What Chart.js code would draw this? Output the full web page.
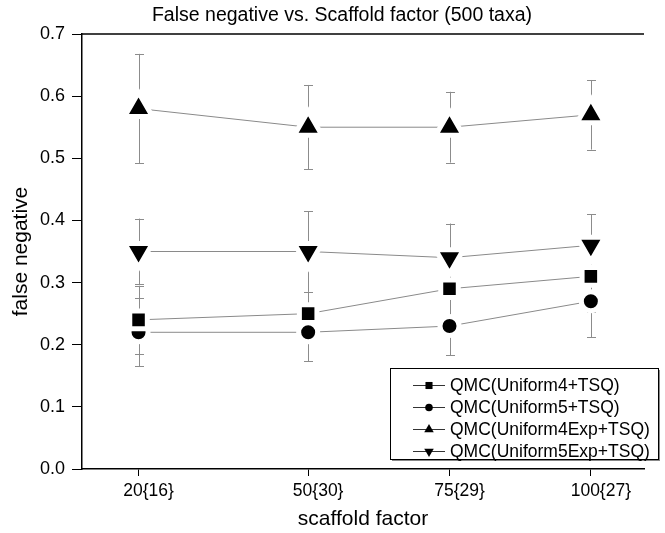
<!DOCTYPE html>
<html>
<head>
<meta charset="utf-8">
<script src="https://cdn.jsdelivr.net/npm/chart.js@4.4.1/dist/chart.umd.min.js"></script>
<style>
  html, body { margin: 0; padding: 0; background: #fff; }
</style>
</head>
<body>
<canvas id="myChart" width="665" height="533"></canvas>
<script>
// 1. Data
const scaffoldFactors = [20, 50, 75, 100];
const tickLabels = ['20{16}', '50{30}', '75{29}', '100{27}'];
const seriesNames = ['QMC(Uniform4+TSQ)', 'QMC(Uniform5+TSQ)', 'QMC(Uniform4Exp+TSQ)', 'QMC(Uniform5Exp+TSQ)'];

const uniform4 = [0.24, 0.25, 0.29, 0.31];
const uniform4Err = [0.055, 0.035, 0.05, 0.058];
const uniform5 = [0.22, 0.22, 0.23, 0.27];
const uniform5Err = [0.055, 0.047, 0.047, 0.058];
const uniform4Exp = [0.58, 0.55, 0.55, 0.57];
const uniform4ExpErr = [0.088, 0.068, 0.057, 0.056];
const uniform5Exp = [0.35, 0.35, 0.34, 0.36];
const uniform5ExpErr = [0.053, 0.065, 0.055, 0.05];

const FONT = "'Liberation Sans', Arial, sans-serif";
const TITLE = 'False negative vs. Scaffold factor (500 taxa)';

// 2. Build datasets
function makeSet(label, values, errors, style, radius, rotation) {
    return {
        label: label,
        data: scaffoldFactors.map((x, i) => ({ x: x, y: values[i] })),
        errors: errors,
        borderColor: '#8a8a8a',
        borderWidth: 1,
        pointStyle: style,
        pointRadius: radius,
        pointHoverRadius: radius,
        pointRotation: rotation || 0,
        pointBackgroundColor: '#000',
        pointBorderColor: '#fff',
        pointBorderWidth: 5,
        legendRadius: style === 'circle' ? 3.8 : (style === 'rect' ? 5 : 5.5)
    };
}

const datasets = [
    makeSet(seriesNames[0], uniform4, uniform4Err, 'rect', 12.4),
    makeSet(seriesNames[1], uniform5, uniform5Err, 'circle', 9.5),
    makeSet(seriesNames[2], uniform4Exp, uniform4ExpErr, 'triangle', 16),
    makeSet(seriesNames[3], uniform5Exp, uniform5ExpErr, 'triangle', 16, 180)
];

// 3. Error bars (drawn under the markers)
const errorBars = {
    id: 'errorBars',
    beforeDatasetsDraw(chart) {
        const ctx = chart.ctx;
        const xs = chart.scales.x, ys = chart.scales.y;
        ctx.save();
        ctx.strokeStyle = '#8c8c8c';
        ctx.lineWidth = 1;
        chart.data.datasets.forEach(ds => {
            ds.data.forEach((p, i) => {
                const e = ds.errors[i];
                const px = Math.round(xs.getPixelForValue(p.x)) + 0.5;
                const top = ys.getPixelForValue(p.y + e);
                const bot = ys.getPixelForValue(p.y - e);
                ctx.beginPath();
                ctx.moveTo(px, top); ctx.lineTo(px, bot);
                ctx.moveTo(px - 4.5, Math.round(top) + 0.5); ctx.lineTo(px + 4.5, Math.round(top) + 0.5);
                ctx.moveTo(px - 4.5, Math.round(bot) + 0.5); ctx.lineTo(px + 4.5, Math.round(bot) + 0.5);
                ctx.stroke();
            });
        });
        ctx.restore();
    }
};

// 4. Title, top frame line + legend box
const frameAndLegend = {
    id: 'frameAndLegend',
    afterDraw(chart) {
        const ctx = chart.ctx;
        const area = chart.chartArea;
        ctx.save();
        ctx.fillStyle = '#000';
        ctx.font = '19.5px ' + FONT;
        ctx.textAlign = 'center';
        ctx.textBaseline = 'middle';
        ctx.fillText(TITLE, 342, 16);

        ctx.strokeStyle = '#000';
        ctx.lineWidth = 1.5;
        ctx.beginPath();
        ctx.moveTo(area.left, area.top);
        ctx.lineTo(area.right, area.top);
        ctx.stroke();

        // legend box
        const bx = 390, by = 368, bw = 268, bh = 91;
        ctx.fillStyle = '#fff';
        ctx.fillRect(bx, by, bw, bh);
        ctx.strokeStyle = '#888';
        ctx.lineWidth = 2;
        ctx.beginPath();
        ctx.moveTo(bx + bw + 1, by + 2);
        ctx.lineTo(bx + bw + 1, by + bh + 1);
        ctx.lineTo(bx + 2, by + bh + 1);
        ctx.stroke();
        ctx.strokeStyle = '#000';
        ctx.lineWidth = 1;
        ctx.strokeRect(bx + 0.5, by + 0.5, bw, bh);

        ctx.font = '17.5px ' + FONT;
        ctx.textAlign = 'left';
        ctx.textBaseline = 'middle';
        chart.data.datasets.forEach((ds, i) => {
            const ry = by + 17 + i * 22;
            ctx.strokeStyle = '#333';
            ctx.lineWidth = 1;
            ctx.beginPath();
            ctx.moveTo(413, ry + 0.5); ctx.lineTo(445, ry + 0.5);
            ctx.stroke();
            ctx.fillStyle = '#000';
            Chart.helpers.drawPoint(ctx, {
                pointStyle: ds.pointStyle,
                radius: ds.legendRadius,
                rotation: ds.pointRotation,
                borderWidth: 0
            }, 429, ry + 0.5);
            ctx.fillStyle = '#000';
            ctx.fillText(ds.label, 450, ry + 1);
        });
        ctx.restore();
    }
};

// 5. Chart
const ctx = document.getElementById('myChart').getContext('2d');
const myChart = new Chart(ctx, {
    type: 'line',
    data: { datasets: datasets },
    plugins: [errorBars, frameAndLegend],
    options: {
        responsive: false,
        animation: false,
        devicePixelRatio: 1,
        layout: { padding: { top: 34, left: 0, right: 0, bottom: 0 } },
        plugins: {
            legend: { display: false },
            tooltip: { enabled: false },
            title: { display: false }
        },
        scales: {
            x: {
                type: 'linear',
                min: 10,
                max: 109.4,
                afterBuildTicks: s => { s.ticks = scaffoldFactors.map(v => ({ value: v })); },
                afterFit: s => { s.height = 64; },
                ticks: {
                    callback: v => tickLabels[scaffoldFactors.indexOf(v)],
                    color: '#000',
                    font: { family: FONT, size: 17.5 },
                    padding: 5,
                    labelOffset: 10,
                    maxRotation: 0
                },
                grid: { drawOnChartArea: false, drawTicks: true, tickLength: 7, tickColor: '#000', tickWidth: 1 },
                border: { color: '#000', width: 1.5 },
                title: {
                    display: true,
                    text: 'scaffold factor',
                    color: '#000',
                    font: { family: FONT, size: 21 },
                    padding: { top: 0, bottom: 1 }
                }
            },
            y: {
                min: 0,
                max: 0.7,
                afterFit: s => { s.width = 82; },
                ticks: {
                    stepSize: 0.1,
                    callback: v => v.toFixed(1),
                    color: '#000',
                    font: { family: FONT, size: 18 },
                    padding: 7
                },
                grid: { drawOnChartArea: false, drawTicks: true, tickLength: 10, tickColor: '#000', tickWidth: 1 },
                border: { color: '#000', width: 1.5 },
                title: {
                    display: true,
                    text: 'false negative',
                    color: '#000',
                    font: { family: FONT, size: 21 },
                    padding: { top: 9, bottom: 0 }
                }
            }
        }
    }
});
</script>
</body>
</html>
